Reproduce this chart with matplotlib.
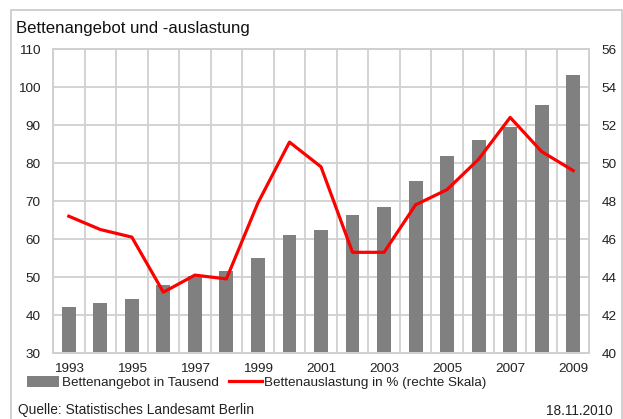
import numpy as np
import matplotlib
matplotlib.use("Agg")
import matplotlib.pyplot as plt
from matplotlib.patches import Rectangle

plt.rcParams['font.family'] = ['Liberation Sans', 'DejaVu Sans']

years = list(range(1993, 2010))
betten = [42.1, 43.2, 44.2, 48.0, 50.2, 51.6, 55.0, 61.1, 62.4, 66.4, 68.5,
          75.3, 81.8, 86.1, 89.6, 95.2, 103.2]
auslastung = [47.2, 46.5, 46.1, 43.2, 44.1, 43.9, 47.9, 51.1, 49.8, 45.3, 45.3,
              47.8, 48.6, 50.2, 52.4, 50.6, 49.6]
year_labels = [str(y) if y % 2 == 1 else "" for y in years]

grid_c = "#d0d0d0"
text_c = "#222222"

fig = plt.figure(figsize=(6.23, 4.19), dpi=100)
ax = fig.add_axes([0.0851, 0.1575, 0.8603, 0.7255])
x = np.arange(len(years))

ax.bar(x, betten, width=0.44, color="#808080", zorder=2,
       label="Bettenangebot in Tausend")
ax.set_ylim(30, 110)
ax.set_xlim(-0.5, len(years) - 0.5)
ax.set_yticks(range(30, 111, 10))
ax.set_xticks(x)
ax.set_xticklabels(year_labels)
for b in np.arange(-0.5, len(years), 1.0):
    ax.axvline(b, color=grid_c, lw=1.3, zorder=1)
ax.yaxis.grid(True, color=grid_c, lw=1.3, zorder=1)
ax.set_axisbelow(True)
ax.tick_params(length=0, labelsize=9.7, colors=text_c, pad=7)
ax.tick_params(axis='y', pad=9)

ax2 = ax.twinx()
ax2.plot(x, auslastung, color="#ff0000", lw=2.3, zorder=3,
         label="Bettenauslastung in % (rechte Skala)")
ax2.set_ylim(40, 56)
ax2.set_yticks(range(40, 57, 2))
ax2.tick_params(length=0, labelsize=9.7, colors=text_c, pad=9)

for a in (ax, ax2):
    for s in a.spines.values():
        s.set_color(grid_c)
        s.set_linewidth(1.3)

# outer frame
fig.patches.append(Rectangle((0.018, -0.01), 0.980, 0.986, transform=fig.transFigure,
                             fill=False, edgecolor="#c8c8c8", lw=1.2))

fig.text(0.026, 0.933, "Bettenangebot und -auslastung", fontsize=12.1,
         color="#111111", va="center")

h1, l1 = ax.get_legend_handles_labels()
h2, l2 = ax2.get_legend_handles_labels()
fig.legend(h1 + h2, l1 + l2, loc="center left", bbox_to_anchor=(0.034, 0.088),
           ncol=2, frameon=False, fontsize=9.7, handlelength=2.4,
           handleheight=0.9, handletextpad=0.2, columnspacing=0.8,
           borderaxespad=0, labelcolor=text_c)

fig.text(0.029, 0.022, "Quelle: Statistisches Landesamt Berlin", fontsize=9.9,
         color=text_c, va="center")
fig.text(0.983, 0.018, "18.11.2010", fontsize=9.8, color=text_c,
         va="center", ha="right")

fig.savefig("out.png", dpi=100)
